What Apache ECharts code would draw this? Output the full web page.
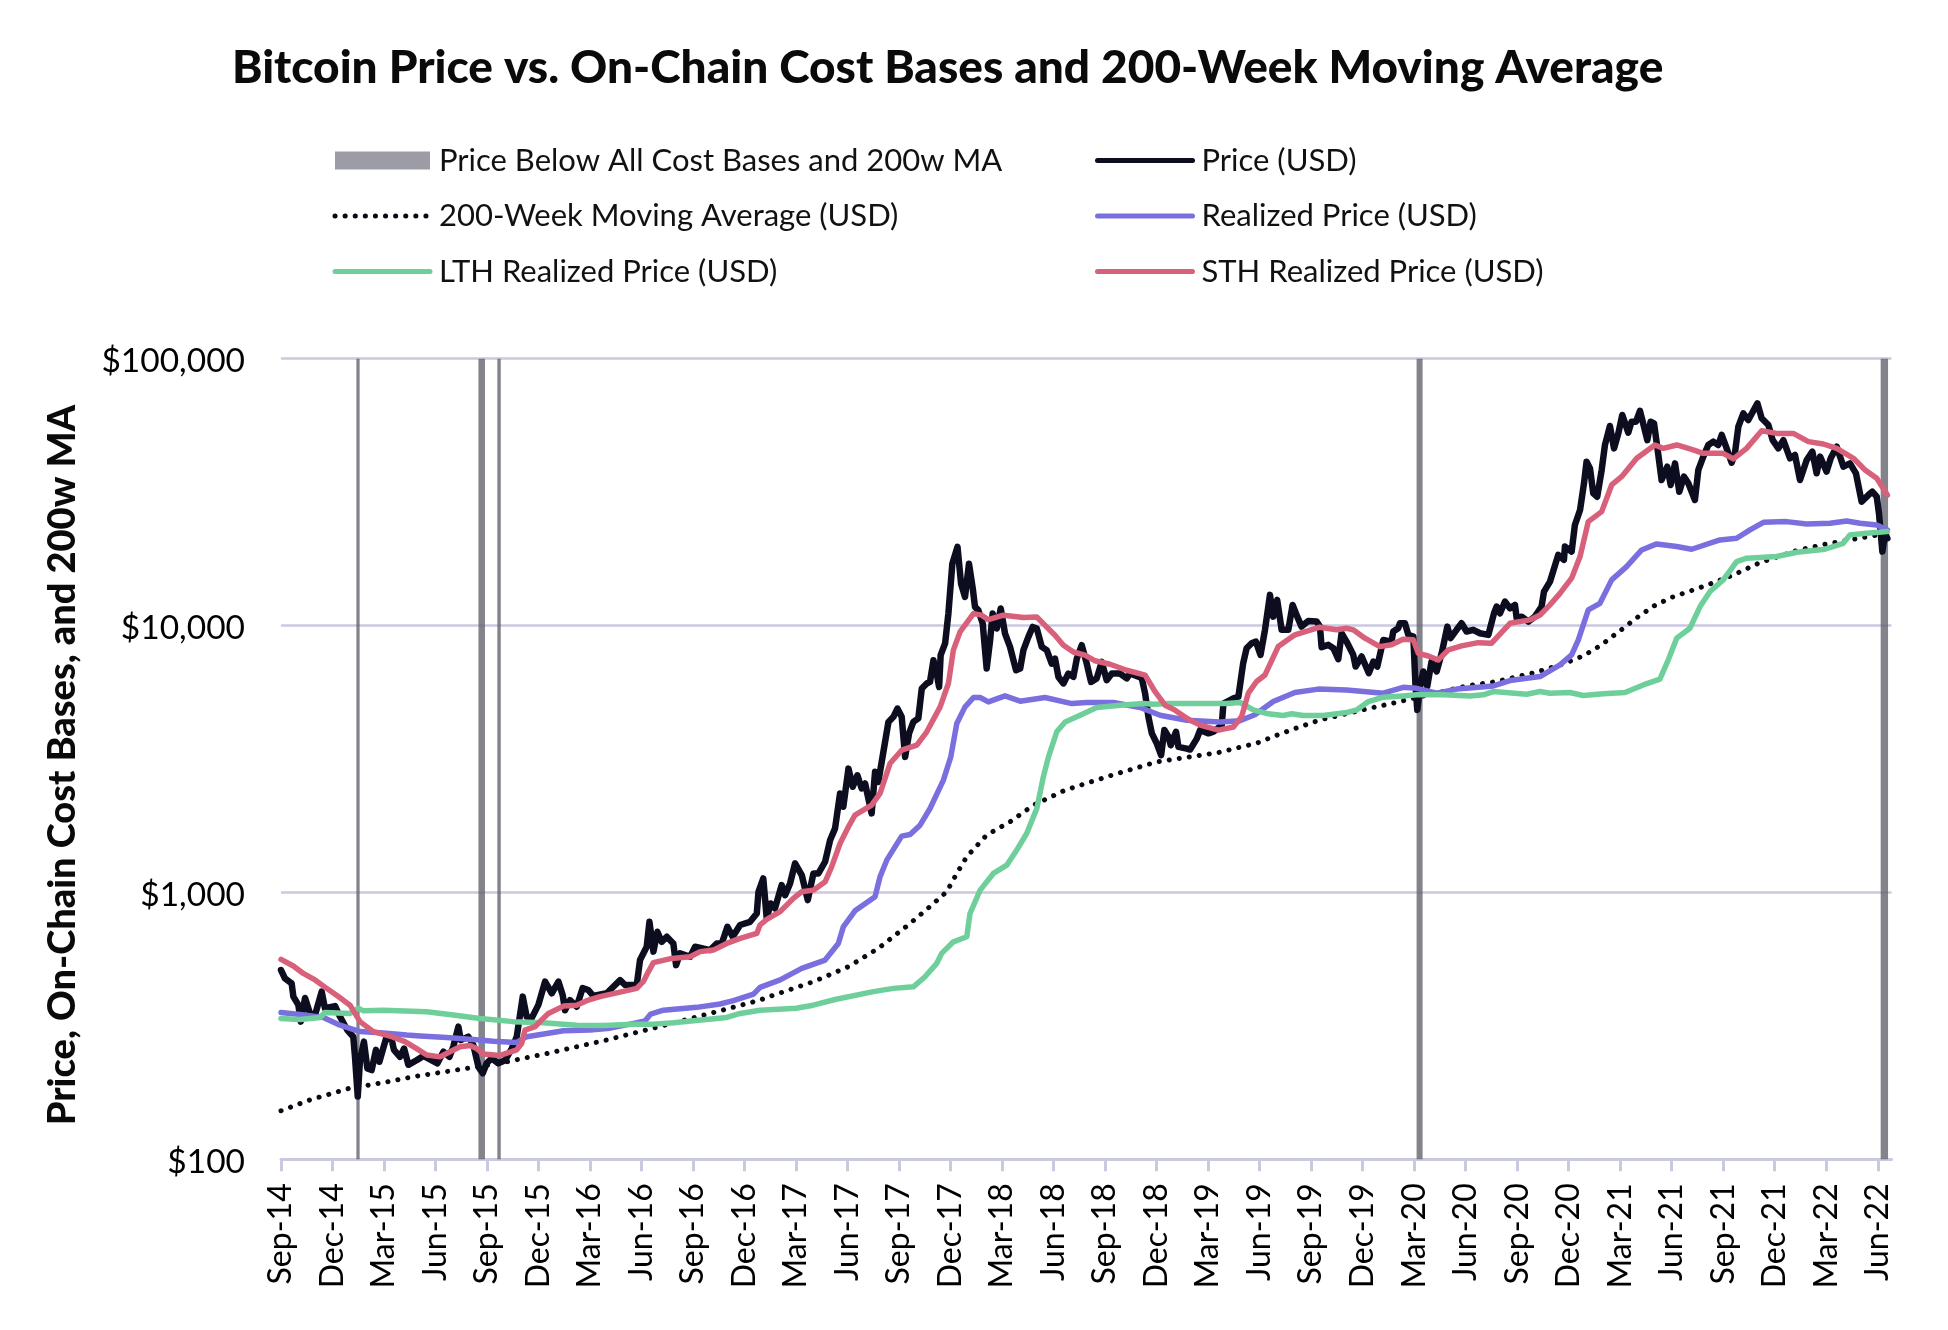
<!DOCTYPE html>
<html>
<head>
<meta charset="utf-8">
<title>Bitcoin Price vs. On-Chain Cost Bases</title>
<script src="https://cdn.jsdelivr.net/npm/echarts@6/dist/echarts.min.js"></script>
<style>
html, body { margin: 0; padding: 0; background: #fff; }
#main { width: 1948px; height: 1330px; }
</style>
</head>
<body>
<div id="main"></div>
<script>
// x values are months since Sep-14, y values are USD
var tickLabels = ['Sep-14','Dec-14','Mar-15','Jun-15','Sep-15','Dec-15','Mar-16','Jun-16','Sep-16','Dec-16',
	'Mar-17','Jun-17','Sep-17','Dec-17','Mar-18','Jun-18','Sep-18','Dec-18','Mar-19','Jun-19','Sep-19','Dec-19',
	'Mar-20','Jun-20','Sep-20','Dec-20','Mar-21','Jun-21','Sep-21','Dec-21','Mar-22','Jun-22'];

var belowAllBands = [[4.39,4.58],[11.5,11.88],[12.6,12.8],[66.14,66.49],[93.17,93.6]];

var price = [[0,512],[.23,476],[.62,456],[.72,407],[1.01,379],[1.15,328],[1.4,402],[1.69,352],[1.98,347],[2.37,425],
	[2.56,368],[3.15,375],[3.44,342],[3.86,305],[4.21,288],[4.31,242],[4.47,172],[4.6,235],[4.83,276],[5.03,219],
	[5.28,216],[5.53,257],[5.73,232],[6.12,284],[6.45,280],[6.58,257],[6.93,242],[7.17,260],[7.42,226],[7.9,235],
	[8.29,244],[8.78,235],[9.11,229],[9.46,253],[9.81,242],[10.04,265],[10.33,314],[10.47,280],[10.91,288],[11.2,268],
	[11.5,222],[11.75,210],[11.98,229],[12.27,239],[12.66,229],[13.05,235],[13.44,260],[13.73,288],[14.08,407],[14.31,342],
	[14.6,338],[14.99,379],[15.38,463],[15.77,419],[16.16,463],[16.41,412],[16.54,362],[16.83,395],[17.22,373],[17.57,438],
	[17.9,431],[18.19,409],[18.97,419],[19.75,469],[20.04,450],[20.72,450],[20.91,558],[21.3,626],[21.46,776],[21.69,600],
	[21.92,712],[22.17,653],[22.47,682],[22.85,644],[23.01,534],[23.24,591],[23.83,574],[24.12,626],[24.99,608],[25.38,644],
	[25.67,644],[26,743],[26.31,682],[26.74,755],[27.32,776],[27.71,834],[27.81,1006],[28.09,1128],[28.29,800],[28.52,909],
	[28.77,871],[29.16,1065],[29.36,977],[29.65,1081],[29.94,1285],[30.33,1161],[30.68,936],[31.01,1178],[31.3,1178],[31.69,1303],
	[31.98,1570],[32.27,1738],[32.56,2349],[32.75,2094],[33.05,2911],[33.3,2489],[33.57,2748],[33.82,2454],[34.02,2559],[34.4,1977],
	[34.6,2831],[34.79,2596],[35.38,4355],[35.67,4550],[35.9,4887],[36.15,4550],[36.35,3221],[36.58,3945],[36.83,4355],[37.12,4487],
	[37.32,5808],[37.61,6067],[37.8,6152],[38,7413],[38.19,6607],[38.33,5888],[38.42,7745],[38.68,8570],[38.87,11090],[39.1,17060],
	[39.4,19720],[39.61,14350],[39.84,12800],[40.07,17060],[40.29,13770],[40.42,11750],[40.62,11400],[40.87,10170],[41.1,6900],[41.3,8810],
	[41.45,11090],[41.69,9750],[41.92,11590],[42.17,9330],[42.46,8320],[42.81,6800],[43.05,6900],[43.24,8090],[43.53,9070],[43.78,9880],
	[44.02,9750],[44.31,8320],[44.6,8090],[44.89,7200],[45.08,7520],[45.28,6420],[45.57,6070],[45.86,6610],[46.15,6420],[46.35,7520],
	[46.64,8440],[46.93,7200],[47.18,6150],[47.51,6340],[47.8,7310],[48.09,6240],[48.39,6610],[48.87,6610],[49.26,6340],[49.45,6610],
	[50.13,6370],[50.33,5560],[50.52,4550],[50.72,3945],[51.01,3614],[51.26,3270],[51.45,4060],[51.69,3830],[51.82,3560],[52.13,4000],
	[52.27,3510],[52.75,3460],[52.95,3430],[53.34,3770],[53.53,4060],[54.02,3945],[54.31,4000],[54.79,4235],[54.89,5100],[55.47,5333],
	[55.76,5410],[56.04,7230],[56.24,8225],[56.53,8590],[56.78,8710],[57.05,7770],[57.31,9640],[57.6,13030],[57.79,10800],[58.02,12480],
	[58.28,9640],[58.67,9640],[58.92,11950],[59.19,10800],[59.44,9910],[59.83,10400],[60.32,10350],[60.51,9910],[60.61,8300],[61,8470],
	[61.29,8225],[61.58,7480],[61.77,9360],[62.06,8710],[62.45,7770],[62.59,7020],[62.94,7655],[63.36,6630],[63.62,7330],[63.85,7020],
	[64.2,8830],[64.68,8710],[64.78,9500],[65.07,9770],[65.17,10200],[65.46,10200],[65.66,9230],[65.95,9090],[66.08,5910],[66.18,4830],
	[66.34,5910],[66.53,6730],[66.76,5910],[67.01,7330],[67.31,6730],[67.6,7870],[67.93,9910],[68.12,8970],[68.47,9640],[68.76,10200],
	[69.05,9500],[69.44,9640],[69.83,9360],[70.32,9230],[70.65,11120],[70.8,11780],[71,11120],[71.29,12300],[71.58,11610],[71.87,11950],
	[71.97,10650],[72.26,10800],[72.65,10350],[73.03,10800],[73.42,11780],[73.56,13410],[73.91,14620],[74.06,15700],[74.39,18400],[74.72,17620],
	[74.78,19770],[75.17,18930],[75.36,23820],[75.66,27100],[75.89,34120],[76.04,41120],[76.24,38800],[76.43,31300],[76.66,30400],[76.92,38300],
	[77.11,47500],[77.4,55960],[77.64,46130],[77.89,52480],[78.12,61520],[78.47,52840],[78.66,58080],[78.92,58080],[79.15,63800],[79.58,49550],
	[79.77,58080],[79.97,57250],[80.22,43550],[80.41,35120],[80.74,39400],[80.94,33650],[81.19,40550],[81.44,31750],[81.71,36140],[81.97,34120],
	[82.35,29550],[82.55,38300],[82.84,42950],[83.13,47500],[83.42,48900],[83.71,47500],[83.91,51800],[84.2,46130],[84.49,40740],[84.68,44200],
	[84.88,55630],[85.17,62400],[85.46,58900],[85.99,68000],[86.24,59800],[86.63,56400],[86.88,49550],[87.21,46130],[87.5,49550],[87.89,42350],
	[88.18,43550],[88.47,35120],[88.86,41700],[89.19,44850],[89.44,37200],[89.64,42950],[90.02,37750],[90.26,42350],[90.61,46800],[91,39400],
	[91.38,40550],[91.73,37200],[92.06,29110],[92.16,28710],[92.45,30830],[92.68,31750],[92.94,30400],[93.07,26350],[93.27,18930],[93.42,22180],[93.56,21230]];

var sthRealized = [[0,561],[.72,530],[1.3,497],[1.98,470],[2.66,437],[3.34,407],[4.02,378],[4.31,352],[4.6,328],[5.38,301],
	[6.45,288],[7.22,276],[7.9,260],[8.49,246],[9.26,242],[9.84,253],[10.43,264],[11.01,267],[11.4,260],[11.79,248],
	[12.76,245],[13.73,257],[14.02,272],[14.21,305],[14.8,314],[15.18,333],[15.57,352],[16.45,375],[17.22,378],[17.9,395],
	[18.58,407],[20.72,437],[21.1,463],[21.4,505],[21.69,546],[22.76,566],[23.83,574],[24.41,600],[25.18,608],[25.96,644],
	[26.74,673],[27.71,702],[27.9,755],[28.29,793],[29.07,847],[29.84,950],[30.33,1006],[31.01,1020],[31.69,1096],[32.07,1247],
	[32.56,1526],[33.05,1762],[33.43,1949],[34.4,2123],[34.89,2349],[35.47,3041],[36.15,3412],[37.03,3564],[37.61,3998],[38.39,4959],
	[38.87,6064],[39.16,8090],[39.55,9470],[40.33,11090],[40.81,10940],[41.2,10520],[42.07,10940],[43.24,10720],[44.02,10770],[44.4,10170],
	[45.08,9200],[45.57,8440],[46.15,7960],[46.83,7745],[47.41,7380],[48.29,7160],[49.26,6800],[50.33,6520],[50.91,5650],[51.49,5030],
	[52.07,4820],[52.85,4456],[53.53,4235],[54.6,4055],[55.47,4170],[55.95,4560],[56.34,5580],[56.82,6170],[57.31,6530],[58.08,8340],
	[59.05,9230],[60.51,9860],[61.48,9640],[62.06,9770],[62.45,9640],[63.13,8970],[64,8340],[64.68,8470],[65.36,8890],[65.95,8840],
	[66.24,7870],[66.82,7690],[67.4,7430],[67.99,8110],[68.76,8390],[69.73,8630],[70.51,8590],[71.58,10200],[72.74,10500],[73.33,10960],
	[73.91,11950],[74.49,13200],[75.17,15050],[75.66,18130],[76.14,24520],[76.92,26730],[77.5,33650],[78.08,36140],[78.96,42350],[80.02,47500],
	[80.51,46130],[81.29,47500],[82.16,45730],[82.84,44200],[84,44200],[84.59,42100],[85.36,46130],[86.24,53700],[87.11,52500],[88.08,52500],
	[88.96,48900],[89.83,47900],[90.61,46130],[91.58,42350],[92.26,38300],[92.94,35640],[93.56,30830]];

var realized = [[0,355],[1.11,349],[2.47,340],[3.44,318],[4.6,301],[5.77,298],[7.32,292],[8.1,290],[9.65,286],[11.2,281],
	[12.37,277],[13.73,274],[14.31,288],[15.48,296],[16.45,303],[18,305],[19.17,310],[20.53,323],[21.2,330],[21.53,350],
	[22.27,362],[24.21,371],[25.57,382],[26.35,393],[27.52,416],[27.9,441],[29.07,470],[30.33,519],[31.69,558],[32.46,644],
	[32.75,743],[33.43,853],[34.6,964],[34.89,1145],[35.28,1321],[36.15,1625],[36.64,1648],[37.22,1787],[37.8,2063],[38.58,2635],
	[39.01,3221],[39.36,4295],[39.84,4959],[40.33,5374],[40.72,5374],[41.2,5176],[42.17,5454],[43.05,5208],[44.5,5374],[46.06,5101],
	[46.93,5147],[48.48,5147],[50.04,4932],[51.2,4613],[52.75,4420],[54.7,4355],[55.85,4400],[56.72,4630],[57.79,5190],[59.05,5610],
	[60.41,5780],[62.06,5740],[64.2,5580],[65.36,5870],[66.14,5820],[67.31,5580],[68.47,5780],[70.61,5940],[71.58,6220],[73.33,6440],
	[74.49,7120],[75.17,7770],[75.56,8830],[76.14,11450],[76.82,12120],[77.5,14830],[78.37,16630],[79.25,19200],[80.12,20230],[81.29,19770],
	[82.16,19320],[83.81,20940],[84.78,21240],[85.56,22830],[86.34,24380],[87.69,24520],[88.86,24040],[90.22,24170],[91.19,24660],[91.97,24170],
	[92.94,23830],[93.56,22830]];

var lthRealized = [[0,337],[1.11,334],[2.27,340],[2.56,355],[4.02,352],[4.5,368],[4.8,360],[5.96,362],[8.49,357],[10.04,347],
	[11.59,337],[13.53,328],[15.28,325],[17.22,318],[18.78,317],[20.53,321],[21.69,321],[22.85,325],[25.96,340],[26.74,352],
	[27.9,362],[30,368],[31,378],[32.27,397],[34.5,425],[35.67,437],[36.83,443],[37.51,483],[38.19,542],[38.48,591],
	[39.16,653],[39.94,682],[40.13,834],[40.72,1020],[41.49,1178],[42.27,1265],[42.85,1441],[43.43,1663],[44.02,2063],[44.4,2710],
	[44.7,3221],[45.18,3998],[45.67,4355],[46.54,4613],[47.51,4930],[48.87,5030],[50.23,5105],[50.81,5070],[51.78,5105],[55.08,5105],
	[55.85,5150],[56.63,4830],[57.5,4670],[58.37,4600],[58.86,4670],[59.54,4600],[60.7,4600],[62.06,4720],[62.65,4830],[63.33,5190],
	[64.2,5390],[65.36,5450],[66.14,5500],[67.7,5500],[69.25,5450],[70.02,5500],[70.61,5660],[72.55,5530],[73.33,5660],[73.91,5580],
	[75.07,5610],[75.85,5470],[77.01,5550],[78.28,5610],[79.34,5990],[80.31,6300],[80.8,7440],[81.29,8970],[82.06,9770],[82.65,11780],
	[83.23,13420],[84,14830],[84.78,17370],[85.36,17880],[87.11,18140],[88.28,18830],[89.92,19320],[90.99,20340],[91.38,21870],[92.35,22170],[93.56,22500]];

var ma200w = [[0,152],[1.69,167],[3.92,184],[6.16,195],[7.9,205],[10.82,219],[13.15,232],[15.48,249],[18.97,280],[21.69,310],
	[24.99,352],[27.9,395],[28.39,406],[31.01,463],[33.05,527],[34.79,617],[36.64,765],[37.9,897],[38.77,1006],[39.36,1178],
	[39.94,1361],[41.1,1640],[42.46,1840],[43.82,2123],[45.67,2418],[48.39,2750],[51.01,3085],[54.6,3344],[56.83,3625],[57.89,3860],
	[58.96,4090],[60.51,4430],[63.42,4900],[65.17,5190],[65.75,5300],[69.05,5940],[70.8,6170],[73.03,6670],[74.68,7180],[75.85,7700],
	[76.82,8390],[77.75,9310],[78.18,9770],[79.05,10800],[79.97,11850],[81,12760],[82.55,13800],[83.62,14620],[84.59,15480],[86.14,17220],
	[88.28,19100],[90.02,20230],[91.67,21120],[93.33,22050],[93.56,22170]];

var fontName = 'Lato';
var gridColor = '#c9c9e0';

var tickMonths = tickLabels.map(function(label, i) {
	return i * 3;
});

var bandAreas = belowAllBands.map(function(b) {
	return [ { xAxis : b[0] }, { xAxis : b[1] } ];
});

function lineSeries(name, data, color, width) {
	return {
		name : name,
		type : 'line',
		data : data,
		symbol : 'none',
		smooth : false,
		silent : true,
		lineStyle : { color : color, width : width, join : 'round', cap : 'round' },
		itemStyle : { color : color }
	};
}

var maLine = lineSeries('200-Week Moving Average (USD)', ma200w, '#0a0a14', 5);
maLine.lineStyle.type = [ 0.1, 10 ];

var chart = echarts.init(document.getElementById('main'), null, { renderer : 'canvas' });

var legendText = { fontFamily : fontName, fontSize : 31, color : '#111', padding : [ 0, 0, 0, 4 ] };

chart.setOption({
	backgroundColor : '#ffffff',
	animation : false,
	title : {
		text : 'Bitcoin Price vs. On-Chain Cost Bases and 200-Week Moving Average',
		left : 227,
		top : 40,
		textStyle : { fontFamily : fontName, fontWeight : 900, fontSize : 46, color : '#0a0a0a' }
	},
	legend : [ {
		orient : 'vertical',
		left : 327.5,
		top : 140,
		itemWidth : 95,
		itemHeight : 18,
		itemGap : 24.5,
		selectedMode : false,
		textStyle : legendText,
		lineStyle : { width : 5 },
		itemStyle : { opacity : 0 },
		data : [ { name : 'Price Below All Cost Bases and 200w MA', icon : 'rect', itemStyle : { color : '#9c9ca6', opacity : 1 } },
			'200-Week Moving Average (USD)', 'LTH Realized Price (USD)' ]
	}, {
		orient : 'vertical',
		left : 1090,
		top : 140,
		itemWidth : 95,
		itemHeight : 18,
		itemGap : 24.5,
		selectedMode : false,
		textStyle : legendText,
		lineStyle : { width : 5 },
		itemStyle : { opacity : 0 },
		data : [ 'Price (USD)', 'Realized Price (USD)', 'STH Realized Price (USD)' ]
	} ],
	grid : { left : 281, right : 56.5, top : 358.7, bottom : 170.7 },
	xAxis : {
		type : 'value',
		min : 0,
		max : 93.8,
		interval : 3,
		splitLine : { show : false },
		axisLine : { show : true, lineStyle : { color : gridColor, width : 3 } },
		axisTick : { show : true, length : 12, customValues : tickMonths, lineStyle : { color : gridColor, width : 3 } },
		axisLabel : {
			customValues : tickMonths,
			rotate : 90,
			margin : 24,
			fontFamily : fontName,
			fontSize : 32,
			color : '#000',
			formatter : function(v) {
				return tickLabels[Math.round(v / 3)];
			}
		}
	},
	yAxis : {
		type : 'log',
		logBase : 10,
		min : 100,
		max : 100000,
		name : 'Price, On-Chain Cost Bases, and 200w MA',
		nameLocation : 'middle',
		nameGap : 199,
		nameTextStyle : { fontFamily : fontName, fontWeight : 900, fontSize : 38, color : '#0a0a0a', padding : [ 0, 12, 0, 0 ] },
		axisLine : { show : false },
		axisTick : { show : false },
		minorTick : { show : false },
		splitLine : { show : true, lineStyle : { color : gridColor, width : 2.5 } },
		axisLabel : {
			margin : 36,
			fontFamily : fontName,
			fontSize : 33.5,
			color : '#000',
			formatter : function(v) {
				return '{v|$' + Math.round(v).toLocaleString('en-US') + '}';
			},
			rich : {
				v : { fontFamily : fontName, fontSize : 33.5, color : '#000', padding : [ 6, 0, 0, 0 ] }
			}
		}
	},
	series : [ {
		name : 'Price Below All Cost Bases and 200w MA',
		type : 'line',
		data : [],
		symbol : 'none',
		silent : true,
		itemStyle : { color : '#9c9ca6' },
		markArea : {
			silent : true,
			itemStyle : { color : 'rgba(100,100,110,0.8)' },
			data : bandAreas
		}
	},
	maLine,
	lineSeries('Price (USD)', price, '#0d0d20', 6.5),
	lineSeries('Realized Price (USD)', realized, '#7a6fde', 5.5),
	lineSeries('LTH Realized Price (USD)', lthRealized, '#6fcf9b', 5.5),
	lineSeries('STH Realized Price (USD)', sthRealized, '#d9607a', 5.5) ]
});
</script>
</body>
</html>
